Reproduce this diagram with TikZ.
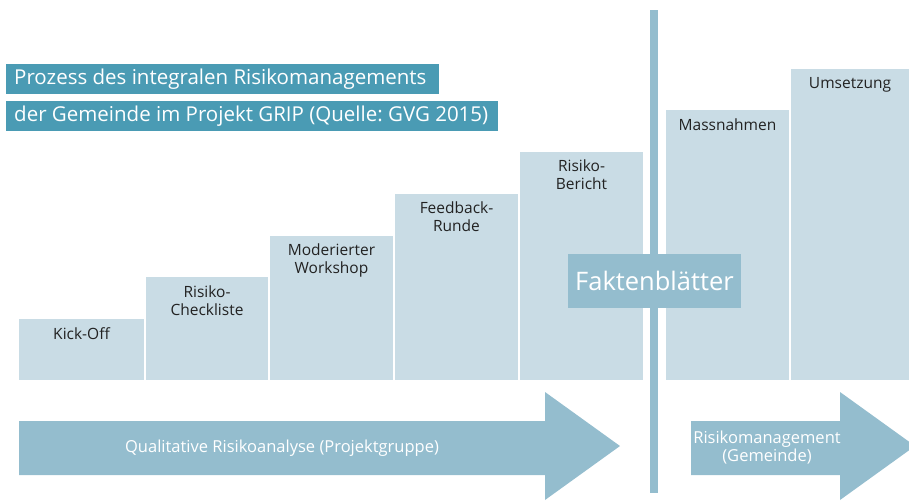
\documentclass[tikz,border=0pt]{standalone}
\usepackage{fontspec}
\setmainfont{Open Sans}
\frenchspacing
\definecolor{barc}{HTML}{C9DCE5}
\definecolor{arrc}{HTML}{94BDCE}
\definecolor{titc}{HTML}{4A9BB4}
\definecolor{txtc}{HTML}{222222}
\begin{document}
\begin{tikzpicture}[x=1pt,y=-1pt,
  bar/.style={fill=barc,draw=none},
  barlabel/.style={anchor=north,align=center,font=\fontsize{15.5}{18}\selectfont,text=txtc,inner sep=0pt},
  titlebox/.style={fill=titc,text=white,anchor=north west,font=\fontsize{20.5}{22}\selectfont,inner xsep=8pt,inner ysep=0pt,minimum height=30pt},
  bigarrow/.style={fill=arrc,draw=none},
  arrowlabel/.style={text=white,align=center,font=\fontsize{16.5}{18}\selectfont,inner sep=0pt}]
\useasboundingbox (0,0) rectangle (909,501);
% bars
\path[bar] (19,319) rectangle (144,380);
\path[bar] (146,277) rectangle (268,380);
\path[bar] (270,236) rectangle (393,380);
\path[bar] (395,194) rectangle (518,380);
\path[bar] (520,152) rectangle (643,380);
\path[bar] (666,110) rectangle (789,380);
\path[bar] (791,69) rectangle (909,380);
\node[barlabel] (l1) at (81.5,327) {Kick-Off};
\node[barlabel] (l2) at (207,286) {Risiko-\\Checkliste};
\node[barlabel] (l3) at (331.5,244) {Moderierter\\Workshop};
\node[barlabel] (l4) at (456.5,202) {Feedback-\\Runde};
\node[barlabel] (l5) at (581.5,160) {Risiko-\\Bericht};
\node[barlabel] (l6) at (727.5,119) {Massnahmen};
\node[barlabel] (l7) at (850,77) {Umsetzung};
% vertical line with white border
\path[fill=white] (643,10) rectangle (666,493);
\path[fill=arrc] (650,10) rectangle (658,493);
% Faktenblaetter
\node[fill=arrc,text=white,minimum width=173pt,minimum height=54pt,inner sep=0pt,font=\fontsize{25.5}{28}\selectfont] (fb) at (654.5,281) {Faktenblätter};
% titles
\node[titlebox] (t1) at (6,64) {\makebox[417pt][l]{Prozess des integralen Risikomanagements}};
\node[titlebox] (t2) at (6,101) {\makebox[476pt][l]{der Gemeinde im Projekt GRIP (Quelle: GVG 2015)}};
% arrows
\path[bigarrow] (19,421) -- (545,421) -- (545,392) -- (620,446) -- (545,500) -- (545,475) -- (19,475) -- cycle;
\path[bigarrow] (691,421) -- (840,421) -- (840,392) -- (915,446) -- (840,500) -- (840,475) -- (691,475) -- cycle;
\node[arrowlabel] (a1) at (282,448) {Qualitative Risikoanalyse (Projektgruppe)};
\node[arrowlabel] (a2) at (767,448) {Risikomanagement\\(Gemeinde)};
\end{tikzpicture}
\end{document}
